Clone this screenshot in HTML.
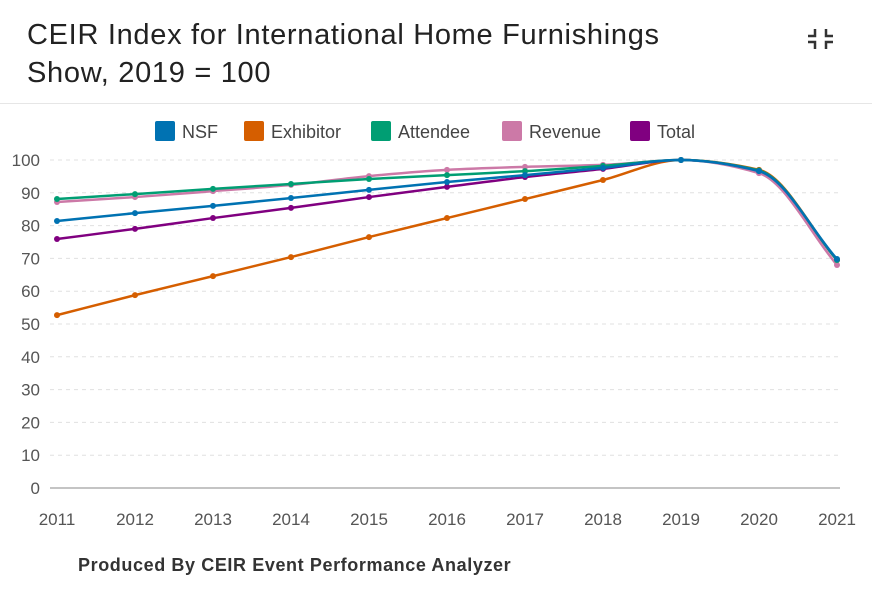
<!DOCTYPE html>
<html><head><meta charset="utf-8"><style>
body{margin:0;background:#fff;width:872px;height:597px;overflow:hidden;font-family:"Liberation Sans",sans-serif}
#title{position:absolute;left:27px;top:16px;font-size:29px;line-height:38px;color:#222;letter-spacing:0.7px}
#hr{position:absolute;left:0;top:103px;width:872px;height:1px;background:#e6e6e6}
#foot{position:absolute;left:78px;top:555px;font-size:18px;color:#333;font-weight:bold;letter-spacing:0.6px}
</style></head><body>
<div id="title">CEIR Index for International Home Furnishings<br>Show, 2019 = 100</div>
<div id="hr"></div>
<svg width="872" height="597" style="position:absolute;left:0;top:0" id="svg">
<g stroke="#333" stroke-width="2.5" fill="none">
<path d="M815 29v7h-7M826 29v7h7M815 49v-7h-7M826 49v-7h7"/></g>
</svg>
<div id="foot">Produced By CEIR Event Performance Analyzer</div>
<script>
const years=[2011,2012,2013,2014,2015,2016,2017,2018,2019,2020,2021];
const yTicks=[0,10,20,30,40,50,60,70,80,90,100];
const seriesNames=["NSF","Exhibitor","Attendee","Revenue","Total"];
const nsf=[81.4,83.8,86,88.4,90.9,93.3,95.4,97.6,100,96.6,69.8];
const exhibitor=[52.7,58.8,64.6,70.4,76.5,82.3,88.1,93.9,100,97,69.5];
const attendee=[88.1,89.6,91.2,92.7,94.2,95.4,96.6,98.2,100,96.8,69.5];
const revenue=[87.2,88.7,90.5,92.4,95.1,97,97.9,98.5,100,96,68];
const total=[75.9,79,82.3,85.4,88.7,91.8,94.8,97.3,100,96.5,69.5];
const colors=["#0072b2","#d55e00","#009e73","#cc79a7","#800080"];
const NS="http://www.w3.org/2000/svg",svg=document.getElementById('svg');
const x=v=>57+(v-2011)*78, y=v=>488-v*3.28;
function mk(t,a,p){const e=document.createElementNS(NS,t);for(const k in a)e.setAttribute(k,a[k]);(p||svg).appendChild(e);return e;}
yTicks.forEach(t=>{
 const g=mk('line',{x1:50,x2:840,y1:y(t),y2:y(t),stroke:t?'#e0e0e0':'#888','stroke-dasharray':t?'4,4':'none'});
 
 
 const l=mk('text',{x:40,y:y(t)+6,'text-anchor':'end','font-size':17,fill:'#555'});l.textContent=t;
 
 
});
years.forEach(v=>{const l=mk('text',{x:x(v),y:525,'text-anchor':'middle','font-size':17,fill:'#555'});l.textContent=v;
 
 });
function mono(xs,ys){const n=xs.length,d=[],m=[];
 for(let i=0;i<n-1;i++)d.push((ys[i+1]-ys[i])/(xs[i+1]-xs[i]));
 m[0]=d[0];m[n-1]=d[n-2];
 for(let i=1;i<n-1;i++)m[i]=(d[i-1]*d[i]<=0)?0:2/(1/d[i-1]+1/d[i]);
 let p=`M${xs[0]},${ys[0]}`;
 for(let i=0;i<n-1;i++){const h=xs[i+1]-xs[i];p+=`C${xs[i]+h/3},${ys[i]+m[i]*h/3} ${xs[i+1]-h/3},${ys[i+1]-m[i+1]*h/3} ${xs[i+1]},${ys[i+1]}`;}
 return p;}
const all=[nsf,exhibitor,attendee,revenue,total];
[1,4,3,2,0].forEach(k=>{const s=all[k];
 const g=mk('g',{});
 
 
 mk('path',{d:mono(years.map(x),s.map(y)),fill:'none',stroke:colors[k],'stroke-width':2.5},g);
 s.forEach((v,i)=>{const c=mk('circle',{cx:x(years[i]),cy:y(v),r:3,fill:colors[k]},g);
  
  });
});
const lx=[155,244,371,502,630];
seriesNames.forEach((n,k)=>{const g=mk('g',{});
 
 
 mk('rect',{x:lx[k],y:121,width:20,height:20,rx:2,fill:colors[k]},g);
 const t=mk('text',{x:lx[k]+27,y:138,'font-size':18,fill:'#444'},g);t.textContent=n;});
</script>
</body></html>
